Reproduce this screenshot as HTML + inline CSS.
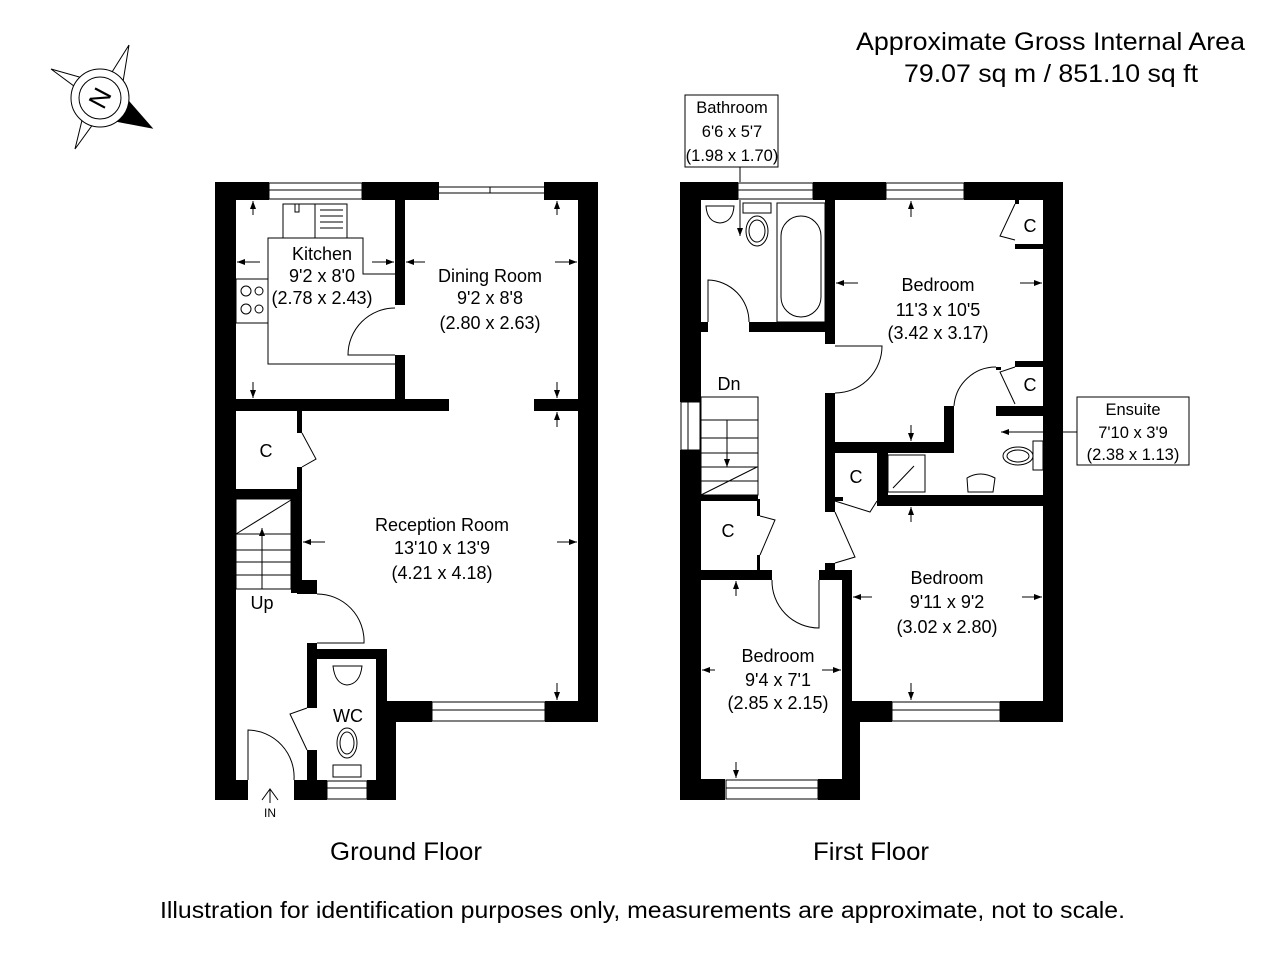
<!DOCTYPE html>
<html><head><meta charset="utf-8"><style>html,body{margin:0;padding:0;background:#fff}svg{display:block}text{font-family:"Liberation Sans",Arial,sans-serif;fill:#000}</style></head>
<body>
<svg width="1280" height="960" viewBox="0 0 1280 960" xmlns="http://www.w3.org/2000/svg">
<defs>
<marker id="a" markerWidth="8" markerHeight="6" refX="8" refY="3" orient="auto" markerUnits="userSpaceOnUse"><path d="M0,0 L8,3 L0,6 Z" fill="#000"/></marker>
</defs>
<rect width="1280" height="960" fill="#fff"/>

<!-- Titles -->
<text x="856" y="50" font-size="25" textLength="389" lengthAdjust="spacingAndGlyphs">Approximate Gross Internal Area</text>
<text x="904" y="82" font-size="25" textLength="294" lengthAdjust="spacingAndGlyphs">79.07 sq m / 851.10 sq ft</text>
<text x="330" y="860" font-size="25" textLength="152" lengthAdjust="spacingAndGlyphs">Ground Floor</text>
<text x="813" y="860" font-size="25" textLength="116" lengthAdjust="spacingAndGlyphs">First Floor</text>
<text x="160" y="918" font-size="23" textLength="965" lengthAdjust="spacingAndGlyphs">Illustration for identification purposes only, measurements are approximate, not to scale.</text>

<!-- Compass -->
<g stroke="#000" stroke-width="1" fill="#fff">
<polygon points="129,45 107,80 122,88"/>
<polygon points="51,69 82,92 90,80"/>
<polygon points="75,149 84,112 96,120"/>
<polygon points="152,128 124,96 110,120" fill="#000"/>
<circle cx="100" cy="98" r="29"/>
<circle cx="100" cy="98" r="21"/>
</g>
<text x="100" y="107" font-size="26" text-anchor="middle" transform="rotate(-62 100 98)">N</text>

<!-- ============ GROUND FLOOR ============ -->
<g fill="#000">
<rect x="215" y="182" width="54" height="18"/>
<rect x="362" y="182" width="77" height="18"/>
<rect x="544" y="182" width="54" height="18"/>
<rect x="215" y="182" width="21" height="618"/>
<rect x="578" y="182" width="20" height="540"/>
<rect x="385" y="701" width="47" height="21"/>
<rect x="545" y="701" width="53" height="21"/>
<rect x="376" y="649" width="11" height="151"/>
<rect x="376" y="722" width="20" height="78"/>
<rect x="215" y="780" width="33" height="20"/>
<rect x="294" y="780" width="33" height="20"/>
<rect x="367" y="780" width="29" height="20"/>
<rect x="307" y="649" width="80" height="10"/>
<rect x="307" y="643" width="10" height="65"/>
<rect x="307" y="750" width="10" height="50"/>
<rect x="395" y="200" width="10" height="105"/>
<rect x="395" y="355" width="10" height="45"/>
<rect x="236" y="399" width="213" height="12"/>
<rect x="534" y="399" width="44" height="12"/>
<rect x="297" y="411" width="5" height="22"/>
<rect x="297" y="467" width="5" height="126"/>
<rect x="291" y="489" width="9" height="104"/>
<rect x="236" y="489" width="64" height="10"/>
<rect x="297" y="580" width="20" height="14"/>
</g>
<g fill="none" stroke="#000" stroke-width="1">
<rect x="269" y="183" width="93" height="16"/><line x1="269" y1="190" x2="362" y2="190"/>
<line x1="439" y1="187" x2="544" y2="187"/><line x1="439" y1="193" x2="544" y2="193"/><line x1="490" y1="187" x2="490" y2="193"/>
<rect x="432" y="702" width="113" height="19"/><line x1="432" y1="710" x2="545" y2="710"/>
<rect x="327" y="781" width="40" height="18"/><line x1="327" y1="788" x2="367" y2="788"/>
<polyline points="395,274 363,274 363,238 268,238 268,364 395,364"/>
<rect x="283" y="204" width="64" height="34"/><line x1="315" y1="204" x2="315" y2="238"/>
<line x1="320" y1="210" x2="343" y2="210"/><line x1="320" y1="216" x2="343" y2="216"/><line x1="320" y1="222" x2="343" y2="222"/><line x1="320" y1="228" x2="343" y2="228"/>
<rect x="295" y="204" width="4" height="8"/>
<rect x="236" y="279" width="32" height="44"/>
<circle cx="246" cy="291" r="5"/><circle cx="259" cy="291" r="4"/><circle cx="246" cy="309" r="5"/><circle cx="259" cy="309" r="4"/>
<path d="M395,308 A47,47 0 0 0 348,355 L395,355"/>
<polyline points="302,433 316,459 302,467"/>
<rect x="236" y="499" width="55" height="90"/>
<line x1="236" y1="534" x2="291" y2="534"/><line x1="236" y1="550" x2="291" y2="550"/><line x1="236" y1="562" x2="291" y2="562"/><line x1="236" y1="575" x2="291" y2="575"/>
<line x1="236" y1="534" x2="291" y2="500"/>
<path d="M317,594 A47,47 0 0 1 364,643 L317,643"/>
<polyline points="307,708 290,714 307,750"/>
<path d="M248,780 L248,730 A47,47 0 0 1 294,780"/>
<path d="M333,666 L362,666 Q360,684 347,685 Q335,684 333,666 Z"/>
<ellipse cx="347" cy="743" rx="10" ry="15"/><ellipse cx="347" cy="743" rx="7" ry="11"/>
<rect x="333" y="765" width="28" height="12"/>
</g>
<g stroke="#000" stroke-width="1" marker-end="url(#a)">
<line x1="253" y1="215" x2="253" y2="201"/>
<line x1="253" y1="382" x2="253" y2="398"/>
<line x1="260" y1="262" x2="237" y2="262"/>
<line x1="372" y1="262" x2="394" y2="262"/>
<line x1="425" y1="262" x2="406" y2="262"/>
<line x1="555" y1="262" x2="577" y2="262"/>
<line x1="557" y1="215" x2="557" y2="201"/>
<line x1="557" y1="382" x2="557" y2="398"/>
<line x1="557" y1="427" x2="557" y2="412"/>
<line x1="557" y1="683" x2="557" y2="700"/>
<line x1="325" y1="542" x2="303" y2="542"/>
<line x1="557" y1="542" x2="577" y2="542"/>
<line x1="262" y1="589" x2="262" y2="528"/>
</g>
<path d="M262,800 L270,789 L278,800 M270,789 L270,803" fill="none" stroke="#000"/>
<g font-size="18" text-anchor="middle">
<text x="322" y="260">Kitchen</text><text x="322" y="282">9'2 x 8'0</text><text x="322" y="304">(2.78 x 2.43)</text>
<text x="490" y="282">Dining Room</text><text x="490" y="304">9'2 x 8'8</text><text x="490" y="329">(2.80 x 2.63)</text>
<text x="442" y="531">Reception Room</text><text x="442" y="554">13'10 x 13'9</text><text x="442" y="579">(4.21 x 4.18)</text>
<text x="266" y="457">C</text><text x="348" y="722">WC</text><text x="262" y="609">Up</text>
</g>
<text x="270" y="817" font-size="12" text-anchor="middle">IN</text>

<!-- ============ FIRST FLOOR ============ -->
<g fill="#000">
<rect x="680" y="182" width="58" height="18"/>
<rect x="813" y="182" width="73" height="18"/>
<rect x="964" y="182" width="99" height="18"/>
<rect x="680" y="182" width="21" height="220"/>
<rect x="680" y="450" width="21" height="350"/>
<rect x="1043" y="182" width="20" height="540"/>
<rect x="825" y="200" width="10" height="144"/>
<rect x="749" y="322" width="86" height="10"/>
<rect x="701" y="322" width="7" height="10"/>
<rect x="825" y="393" width="10" height="119"/>
<rect x="825" y="563" width="10" height="16"/>
<rect x="835" y="570" width="17" height="10"/>
<rect x="842" y="570" width="10" height="152"/>
<rect x="842" y="701" width="18" height="99"/>
<rect x="835" y="442" width="119" height="11"/>
<rect x="944" y="406" width="10" height="47"/>
<rect x="996" y="406" width="47" height="10"/>
<rect x="1015" y="244" width="28" height="5"/>
<rect x="1015" y="200" width="4" height="4"/>
<rect x="1015" y="361" width="28" height="6"/>
<rect x="996" y="367" width="5" height="3"/>
<rect x="877" y="453" width="11" height="53"/>
<rect x="877" y="495" width="166" height="11"/>
<rect x="835" y="497" width="8" height="4"/>
<rect x="852" y="701" width="40" height="21"/>
<rect x="1000" y="701" width="63" height="21"/>
<rect x="701" y="570" width="71" height="10"/>
<rect x="819" y="570" width="16" height="10"/>
<rect x="680" y="779" width="45" height="21"/>
<rect x="818" y="779" width="42" height="21"/>
<rect x="701" y="495" width="57" height="6"/>
<rect x="757" y="499" width="3" height="17"/>
<rect x="757" y="555" width="3" height="15"/>
</g>
<g fill="none" stroke="#000" stroke-width="1">
<rect x="738" y="183" width="75" height="16"/><line x1="738" y1="190" x2="813" y2="190"/>
<rect x="886" y="183" width="78" height="16"/><line x1="886" y1="190" x2="964" y2="190"/>
<rect x="681" y="402" width="19" height="48"/><line x1="688" y1="402" x2="688" y2="450"/>
<rect x="726" y="780" width="92" height="19"/><line x1="726" y1="788" x2="818" y2="788"/>
<rect x="892" y="702" width="108" height="19"/><line x1="892" y1="710" x2="1000" y2="710"/>
<path d="M708,322 L708,280 A42,42 0 0 1 749,322"/>
<path d="M835,346 L882,346 A47,47 0 0 1 835,393"/>
<polyline points="1015,204 1000,236 1015,240"/>
<polyline points="1015,367 1000,372 1015,404"/>
<path d="M954,406 A42,42 0 0 1 996,367"/>
<polyline points="835,501 870,512 877,501"/>
<polyline points="835,512 855,557 835,563"/>
<path d="M772,580 A47,47 0 0 0 819,628 L819,580"/>
<polyline points="760,516 775,520 760,555"/>
<rect x="701" y="397" width="57" height="98"/>
<line x1="701" y1="420" x2="758" y2="420"/><line x1="701" y1="438" x2="758" y2="438"/><line x1="701" y1="453" x2="758" y2="453"/><line x1="701" y1="467" x2="758" y2="467"/><line x1="701" y1="481" x2="758" y2="481"/>
<line x1="701" y1="495" x2="757" y2="467"/>
<path d="M706,206 L734,206 Q733,222 720,223 Q707,222 706,206 Z"/>
<rect x="743" y="203" width="28" height="10"/>
<ellipse cx="757" cy="231" rx="11" ry="15"/><ellipse cx="757" cy="231" rx="8" ry="11"/>
<rect x="777" y="203" width="48" height="119"/>
<rect x="781" y="216" width="40" height="101" rx="20"/>
<rect x="888" y="455" width="37" height="37"/><line x1="893" y1="488" x2="914" y2="466"/>
<ellipse cx="1018" cy="456" rx="15" ry="9"/><ellipse cx="1018" cy="456" rx="11" ry="6"/>
<rect x="1033" y="441" width="10" height="29"/>
<path d="M967,478 Q980,470 995,478 L993,492 L968,492 Z"/>
<rect x="685" y="95" width="93" height="72"/>
<line x1="740" y1="167" x2="740" y2="182"/>
<rect x="1077" y="397" width="112" height="68"/>
<line x1="1077" y1="432" x2="1058" y2="432"/>
</g>
<g stroke="#000" stroke-width="1" marker-end="url(#a)">
<line x1="740" y1="200" x2="740" y2="236"/>
<line x1="1043" y1="432" x2="1001" y2="432"/>
<line x1="911" y1="217" x2="911" y2="201"/>
<line x1="911" y1="425" x2="911" y2="441"/>
<line x1="858" y1="283" x2="836" y2="283"/>
<line x1="1020" y1="283" x2="1042" y2="283"/>
<line x1="911" y1="522" x2="911" y2="507"/>
<line x1="911" y1="683" x2="911" y2="700"/>
<line x1="872" y1="597" x2="853" y2="597"/>
<line x1="1022" y1="597" x2="1042" y2="597"/>
<line x1="736" y1="596" x2="736" y2="581"/>
<line x1="736" y1="762" x2="736" y2="778"/>
<line x1="715" y1="670" x2="702" y2="670"/>
<line x1="822" y1="670" x2="841" y2="670"/>
<line x1="727" y1="420" x2="727" y2="467"/>
</g>
<g font-size="18" text-anchor="middle">
<text x="938" y="291">Bedroom</text><text x="938" y="316">11'3 x 10'5</text><text x="938" y="339">(3.42 x 3.17)</text>
<text x="947" y="584">Bedroom</text><text x="947" y="608">9'11 x 9'2</text><text x="947" y="633">(3.02 x 2.80)</text>
<text x="778" y="662">Bedroom</text><text x="778" y="686">9'4 x 7'1</text><text x="778" y="709">(2.85 x 2.15)</text>
<text x="729" y="390">Dn</text>
<text x="1030" y="232">C</text><text x="1030" y="391">C</text><text x="856" y="483">C</text><text x="728" y="537">C</text>
</g>
<g font-size="16.5" text-anchor="middle">
<text x="732" y="113">Bathroom</text><text x="732" y="137">6'6 x 5'7</text><text x="732" y="161">(1.98 x 1.70)</text>
<text x="1133" y="415">Ensuite</text><text x="1133" y="438">7'10 x 3'9</text><text x="1133" y="460">(2.38 x 1.13)</text>
</g>
</svg>
</body></html>
